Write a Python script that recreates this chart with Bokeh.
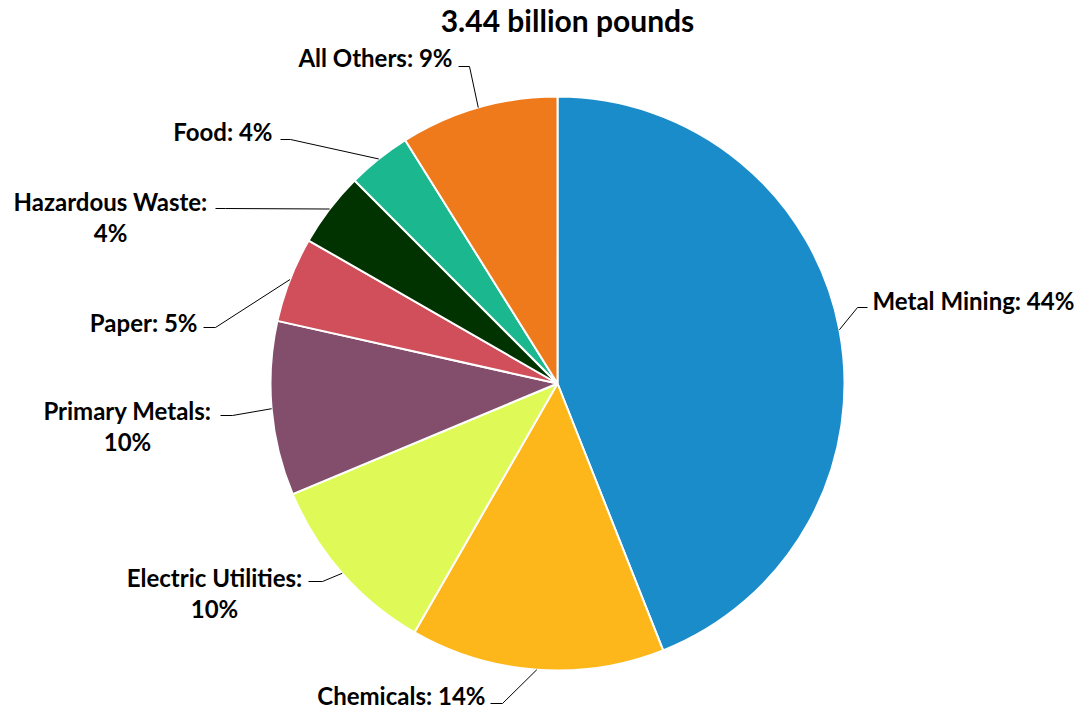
import math
from bokeh.plotting import figure
from bokeh.models import Range1d, ColumnDataSource
from bokeh.core.properties import value
from bokeh.embed import file_html
from bokeh.resources import INLINE

# ---- data ----
title_text = "3.44 billion pounds"
categories = ["Metal Mining", "Chemicals", "Electric Utilities", "Primary Metals",
              "Paper", "Hazardous Waste", "Food", "All Others"]
shares = [44.0, 14.3, 10.4, 9.8, 4.8, 4.2, 3.6, 8.9]
pct_labels = ["44%", "14%", "10%", "10%", "5%", "4%", "4%", "9%"]
colors = ["#1B8CCA", "#FDB71B", "#DFFA56", "#834E6B",
          "#D14F5A", "#003300", "#1BB78E", "#EE7A1B"]

# ---- layout (image pixel coordinates) ----
W, H = 1086, 711
def px(x, y):
    return x, H - y

CX, CY = px(557, 383)
R = 287
FONT = value("Lato")
FS = "24px"

# per-label layout: elbow point, horizontal end, text anchor, align, wrapped
lab_layout = [
    dict(elbow=(857, 307), end=(867, 307), anchor=(872, 300), align="left", wrap=False),
    dict(elbow=(502, 703), end=(490, 703), anchor=(485, 695), align="right", wrap=False),
    dict(elbow=(322, 581), end=(308, 581), anchor=(214, 577), align="center", wrap=True),
    dict(elbow=(232, 415), end=(220, 415), anchor=(127, 410), align="center", wrap=True),
    dict(elbow=(215, 327), end=(203, 327), anchor=(197, 322), align="right", wrap=False),
    dict(elbow=(225, 208), end=(215, 208), anchor=(110, 201), align="center", wrap=True),
    dict(elbow=(290, 139), end=(280, 139), anchor=(272, 131), align="right", wrap=False),
    dict(elbow=(469, 66), end=(458, 66), anchor=(452, 57), align="right", wrap=False),
]

p = figure(width=W, height=H, output_backend="svg", toolbar_location=None,
           x_range=Range1d(0, W), y_range=Range1d(0, H), min_border=0)
p.axis.visible = False
p.grid.visible = False
p.outline_line_color = None
p.background_fill_color = "white"
p.border_fill_color = "white"

total = sum(shares)
starts, ends, mids = [], [], []
cum = 0.0
for s in shares:
    a0 = math.pi / 2 - 2 * math.pi * cum / total
    cum += s
    a1 = math.pi / 2 - 2 * math.pi * cum / total
    starts.append(a1)
    ends.append(a0)
    mids.append((a0 + a1) / 2)

src = ColumnDataSource(dict(start=starts, end=ends, color=colors, cat=categories))
p.wedge(x=CX, y=CY, radius=R, start_angle="start", end_angle="end",
        fill_color="color", line_color="white", line_width=2, source=src)

# leader lines and labels
for i, (cat, pct, lay) in enumerate(zip(categories, pct_labels, lab_layout)):
    ex = CX + R * math.cos(mids[i])
    ey = CY + R * math.sin(mids[i])
    bx, by = px(*lay["elbow"])
    hx, hy = px(*lay["end"])
    p.line([ex, bx, hx], [ey, by, hy], line_color="black", line_width=1)
    ax, ay = px(*lay["anchor"])
    if lay["wrap"]:
        p.text(x=[ax], y=[ay], text=[cat + ":"], text_align="center", text_baseline="middle",
               text_font=FONT, text_font_style="bold", text_font_size=FS, text_color="black")
        p.text(x=[ax], y=[ay - 31], text=[pct], text_align="center", text_baseline="middle",
               text_font=FONT, text_font_style="bold", text_font_size=FS, text_color="black")
    else:
        p.text(x=[ax], y=[ay], text=[cat + ": " + pct], text_align=lay["align"],
               text_baseline="middle", text_font=FONT, text_font_style="bold",
               text_font_size=FS, text_color="black")

tx, ty = px(567, 19)
p.text(x=[tx], y=[ty], text=[title_text], text_align="center", text_baseline="middle",
       text_font=FONT, text_font_style="bold", text_font_size="30px", text_color="black")

open("out.html", "w").write(file_html(p, INLINE))
